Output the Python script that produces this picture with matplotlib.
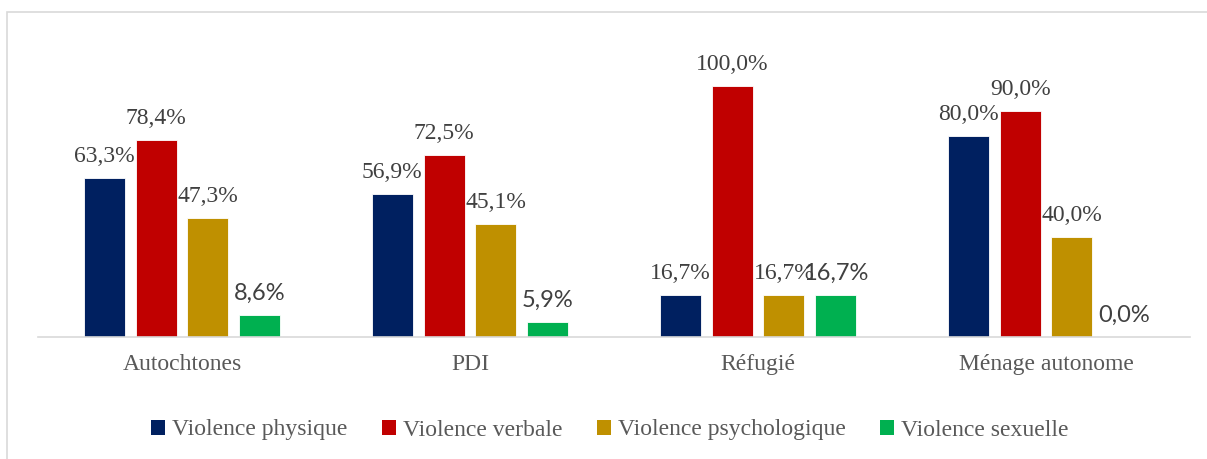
import numpy as np
import matplotlib.pyplot as plt
from matplotlib.patches import Patch, Rectangle

categories = ['Autochtones', 'PDI', 'Réfugié', 'Ménage autonome']
series_names = ['Violence physique', 'Violence verbale',
                'Violence psychologique', 'Violence sexuelle']
physique = [63.3, 56.9, 16.7, 80.0]
verbale = [78.4, 72.5, 100.0, 90.0]
psychologique = [47.3, 45.1, 16.7, 40.0]
sexuelle = [8.6, 5.9, 16.7, 0.0]

colors = ['#002060', '#C00000', '#BF9000', '#00B050']
serif = 'Liberation Serif'
sans = 'Lato'

fig = plt.figure(figsize=(12.07, 4.59), dpi=100)
ax = fig.add_axes([38 / 1207, 122 / 459, 1152 / 1207, 301 / 459])

x = np.arange(len(categories))
width = 0.142
step = 0.18
all_series = [physique, verbale, psychologique, sexuelle]

for i, (vals, col) in enumerate(zip(all_series, colors)):
    pos = x + (i - 1.5) * step
    ax.bar(pos, vals, width=width, color=col, edgecolor='white', linewidth=0.6)
    fam = sans if i == 3 else serif
    for px, v in zip(pos, vals):
        ax.annotate(f'{v:.1f}%'.replace('.', ','), (px, v),
                    xytext=(0, 8), textcoords='offset points',
                    ha='center', va='bottom', fontsize=17,
                    color='#404040', family=fam)

ax.set_xlim(-0.5, len(categories) - 0.5)
ax.set_ylim(0, 120)
ax.set_yticks([])
ax.set_xticks(x)
ax.set_xticklabels(categories, fontsize=17, family=serif, color='#595959')
ax.tick_params(axis='x', length=0, pad=12)
for side in ['top', 'right', 'left']:
    ax.spines[side].set_visible(False)
ax.spines['bottom'].set_color('#d9d9d9')
ax.spines['bottom'].set_linewidth(1.2)

handles = [Patch(facecolor=c, edgecolor='none') for c in colors]
leg = fig.legend(handles, series_names, loc='center', bbox_to_anchor=(610 / 1207, 1 - 430 / 459),
                 ncol=4, frameon=False, handlelength=0.6, handleheight=0.6,
                 handletextpad=0.3, columnspacing=1.45,
                 prop={'family': serif, 'size': 17})
for t in leg.get_texts():
    t.set_color('#595959')

# chart area border (cropped)
fig.patches.append(Rectangle((7 / 1207, -0.1), 1.1, 1.1 - 12 / 459 + 0.0,
                             transform=fig.transFigure, fill=False,
                             edgecolor='#d9d9d9', linewidth=1.2))

fig.savefig('out.png', dpi=100)
